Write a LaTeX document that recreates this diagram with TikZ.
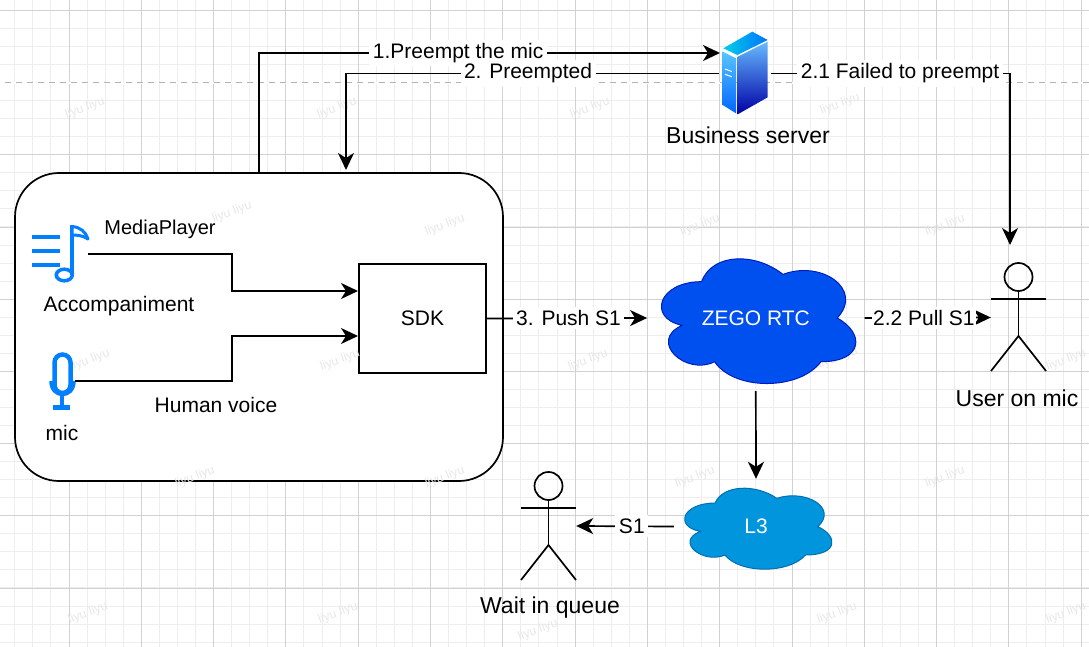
\documentclass[tikz,border=0pt]{standalone}
\usepackage{fontspec}
\setmainfont{Liberation Sans}
\usetikzlibrary{arrows.meta, positioning}
\definecolor{iconblue}{HTML}{007FFF}
\definecolor{zegofill}{HTML}{0050EF}
\definecolor{zegoline}{HTML}{001DBC}
\definecolor{edgefill}{HTML}{0095DD}
\definecolor{edgeline}{HTML}{006EAF}
\tikzstyle{block} = [draw, fill=white, rectangle, inner sep=0pt, line width=1.7pt]
\tikzstyle{holder} = [rectangle, inner sep=0pt]
\tikzstyle{wire} = [line width=1.7pt, line join=miter]
\tikzstyle{tag} = [fill=white, inner sep=3.5pt, font=\fontsize{21}{25}\selectfont]
\tikzstyle{plain} = [inner sep=0pt, font=\fontsize{21}{25}\selectfont]
\tikzstyle{heading} = [inner sep=0pt, font=\fontsize{23}{27}\selectfont]
\tikzstyle{gridminor} = [draw=black!7, line width=1pt]
\tikzstyle{gridmajor} = [draw=black!18, line width=1pt]
\tikzstyle{watermark} = [text=black!9, rotate=20, inner sep=0pt, font=\fontsize{12.5}{15}\selectfont]
\newcommand{\cloudat}[6]{%
  \begin{scope}[shift={(#1,#2)}, x=#3pt, y=-#4pt]
    \draw [fill=#5, draw=#6, line width=1pt] (.25,.25)
      .. controls (.05,.25) and (0,.5) .. (.16,.55)
      .. controls (0,.66) and (.18,.9) .. (.31,.8)
      .. controls (.4,1) and (.7,1) .. (.8,.8)
      .. controls (1,.8) and (1,.6) .. (.875,.5)
      .. controls (1,.3) and (.8,.1) .. (.625,.2)
      .. controls (.5,.05) and (.3,.05) .. (.25,.25) -- cycle;
  \end{scope}}
\newcommand{\stickman}[2]{%
  \begin{scope}[shift={(#1,#2)}, line width=1.7pt]
    \draw (27.5,14) circle (14);
    \draw (27.5,28) -- (27.5,73) (0,36) -- (55,36);
    \draw (0,108) -- (27.5,73) -- (55,108);
  \end{scope}}

\begin{document}
\begin{tikzpicture}[x=1pt, y=-1pt, >={Stealth[length=17pt, width=16pt, inset=5pt]}]
    \useasboundingbox (0,0) rectangle (1089,647);
    \fill [white] (0,0) rectangle (1089,647);
    \foreach \i in {0,...,60} {
        \pgfmathsetmacro{\gx}{-3.3+18.075*\i}
        \draw [gridminor] (\gx,0) -- (\gx,647);
    }
    \foreach \i in {0,...,36} {
        \pgfmathsetmacro{\gy}{-7.7+18.05*\i}
        \draw [gridminor] (0,\gy) -- (1089,\gy);
    }
    \foreach \i in {0,...,15} {
        \pgfmathsetmacro{\gx}{-3.3+72.3*\i}
        \draw [gridmajor] (\gx,0) -- (\gx,647);
    }
    \foreach \i in {0,...,8} {
        \pgfmathsetmacro{\gy}{10.4+72.2*\i}
        \draw [gridmajor] (0,\gy) -- (1089,\gy);
    }
    \draw [white, line width=1.5pt] (0,83) -- (1089,83);
    \draw [black!30, line width=1pt, dash pattern=on 6pt off 5pt] (5,83) -- (1089,83);

    \node [block, rounded corners=44pt, minimum width=488pt, minimum height=308pt] (room) at (259,327) {};
    \node [block, minimum width=127pt, minimum height=109pt, font=\fontsize{21}{25}\selectfont] (sdk) at (422.5,318.5) {SDK};

    \foreach \mx/\my/\mn in {85/108/a,337/108/b,590/108/c,840/104/d,232/212/e,445/225/f,700/225/g,945/225/h,90/360/i,340/360/j,588/360/k,838/358/l,1066/360/u,195/477/m,445/477/n,695/477/o,945/477/p,88/613/q,338/613/r,538/630/s,837/613/t,1066/613/v} {
        \node [watermark] (mark\mn) at (\mx,\my) {liyu liyu};
    }

    \node [holder, minimum width=56pt, minimum height=58pt] (music) at (60,254) {};
    \draw [iconblue, line width=4pt] (32.3,237.3) -- (60,237.3) (32.3,251) -- (60,251) (32.3,264.7) -- (60,264.7);
    \draw [iconblue, line width=4pt] (71.7,225) -- (71.7,275);
    \draw [iconblue, line width=3.5pt] (64.3,275) ellipse (8 and 5.8);
    \draw [iconblue, line width=3pt, fill=white, line join=round] (72,226.5) .. controls (80,227) and (86,232) .. (88,239) .. controls (83,235.5) and (77,235) .. (72,235) -- cycle;

    \node [holder, minimum width=26pt, minimum height=58pt] (micicon) at (62,381) {};
    \draw [iconblue, line width=4.5pt, rounded corners=8pt] (54.5,354.5) rectangle (70.5,393);
    \draw [iconblue, line width=3.5pt] (51,381) .. controls (51,399) and (74,399) .. (74,381);
    \draw [iconblue, line width=4.5pt] (61.8,395) -- (61.8,407.5) (53.3,407.5) -- (70,407.5);

    \node [holder, minimum width=46pt, minimum height=84pt, outer sep=3pt] (server) at (745,73.5) {};
    \shade [left color=blue!10!cyan!90!black, right color=blue!55!cyan] (723.3,48.3) -- (752.3,31.7) -- (767.7,40) -- (737.3,55) -- cycle;
    \shade [top color=blue!35!cyan!65, bottom color=blue!60!cyan] (722.7,51.7) -- (736,58.3) -- (736,113.3) -- (722.7,105) -- cycle;
    \shade [top color=blue!45!cyan!60!white, bottom color=blue!65!black] (737.7,56.7) -- (767.7,41.7) -- (767.7,97.3) -- (737.7,114.3) -- cycle;
    \draw [white, line width=1pt] (725,69) -- (731.7,71.5) (725,74.3) -- (731.7,76.7);

    \node [holder, minimum width=217pt, minimum height=146pt] (zego) at (755.8,318) {};
    \cloudat{647.3}{245.3}{217}{145.5}{zegofill}{zegoline}
    \node [plain, text=white] (zegotext) at (zego) {ZEGO RTC};
    \node [holder, minimum width=164pt, minimum height=95pt] (lthree) at (756,526.5) {};
    \cloudat{674}{479.4}{164.4}{94.5}{edgefill}{edgeline}
    \node [plain, text=white] (lthreetext) at (lthree) {L3};

    \node [holder, minimum width=55pt, minimum height=109pt] (useron) at (1018.5,317.5) {};
    \stickman{991}{263}
    \node [holder, minimum width=55pt, minimum height=108pt] (waiting) at (548.5,526) {};
    \stickman{521}{472}

    \node [heading] (servername) at (748,135) {Business server};
    \node [heading] (useronname) at (1017,398) {User on mic};
    \node [heading] (waitingname) at (550,608) {Wait in queue};
    \node [plain, font=\fontsize{20}{24}\selectfont] (playername) at (160,229) {MediaPlayer};
    \node [plain] (musicname) at (119,306) {Accompaniment};
    \node [plain] (micname) at (62,433) {mic};
    \node [plain] (voicename) at (216,405) {Human voice};

    \coordinate (grab) at (259,173);
    \coordinate (back) at (346,170);
    \coordinate (srvin) at (720,53);
    \coordinate (notify) at (1010,245);
    \coordinate (bendA) at (232,272);
    \coordinate (bendB) at (232,360);
    \coordinate (sdkA) at (358,291);
    \coordinate (sdkB) at (358,336);
    \draw [wire,->] (grab) |- node [tag,pos=.716] {1.Preempt the mic} (srvin);
    \draw [wire,->] (server.west) -| node [tag,pos=.256] {2. Preempted} (back);
    \draw [wire,->] (server.east) -| node [tag,pos=.27] {2.1 Failed to preempt} (notify);
    \draw [wire,->] (music.east) -| (bendA) |- (sdkA);
    \draw [wire,->] (micicon.east) -| (bendB) |- (sdkB);
    \draw [wire,->] (sdk.east) -- node [tag,pos=.51] {3. Push S1} (zego.west);
    \draw [wire,->] (zego.east) -- node [tag,pos=.47,inner xsep=1pt] {2.2 Pull S1} (useron.west);
    \draw [wire,->] (zego.south) -- (lthree.north);
    \draw [wire,->] (lthree.west) -- node [tag,pos=.43] {S1} (waiting.east);
\end{tikzpicture}
\end{document}
